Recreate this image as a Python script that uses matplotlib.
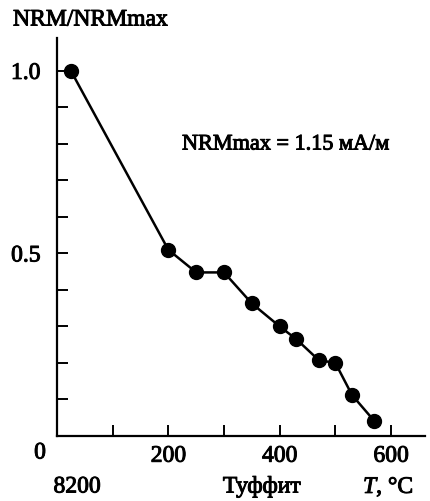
import matplotlib
matplotlib.use("Agg")
import matplotlib.pyplot as plt
import matplotlib.patheffects as pe

# thermal demagnetization, sample 8200 (tuffite)
temps = [25, 200, 250, 300, 350, 400, 430, 470, 500, 530, 570]
nrm = [1.0, 0.51, 0.448, 0.448, 0.363, 0.30, 0.265, 0.208, 0.20, 0.112, 0.041]

x_ticks = [100, 200, 300, 400, 500, 600]
x_labels = ["", "200", "", "400", "", "600"]
y_ticks = [0.1, 0.2, 0.3, 0.4, 0.5, 0.6, 0.7, 0.8, 0.9, 1.0]
y_labels = ["", "", "", "", "0.5", "", "", "", "", "1.0"]

plt.rcParams["font.family"] = ["Liberation Serif", "DejaVu Serif"]
plt.rcParams["font.size"] = 17
plt.rcParams["mathtext.fontset"] = "custom"
plt.rcParams["mathtext.rm"] = "Liberation Serif"
plt.rcParams["mathtext.it"] = "Liberation Serif:italic"
thick = [pe.withStroke(linewidth=0.7, foreground="black")]

fig = plt.figure(figsize=(4.31, 5.01), dpi=100)
ax = fig.add_axes([57 / 431, 65 / 501, 368 / 431, 398 / 501])

ax.plot(temps, nrm, color="black", lw=1.8, marker="o", ms=10,
        markerfacecolor="black", markeredgecolor="black", clip_on=False)

ax.set_xlim(0, 661)
ax.set_ylim(0, 1.09)
ax.spines["top"].set_visible(False)
ax.spines["right"].set_visible(False)
for s in ("left", "bottom"):
    ax.spines[s].set_linewidth(1.6)

ax.set_xticks(x_ticks)
ax.set_xticklabels(x_labels)
ax.set_yticks(y_ticks)
ax.set_yticklabels(y_labels)
ax.tick_params(direction="in", length=8, width=1.4, labelsize=17)
ax.tick_params(axis="y", pad=12)
ax.tick_params(axis="x", pad=7)
for lab in ax.get_xticklabels() + ax.get_yticklabels():
    lab.set_path_effects(thick)

texts = [
    fig.text(40 / 431, 1 - 453 / 501, "0", ha="center", va="center"),
    fig.text(13 / 431, 1 - 20 / 501, "NRM/NRMmax", ha="left", va="center"),
    fig.text(182 / 431, 1 - 145 / 501, "NRMmax = 1.15 мА/м", ha="left", va="center", fontsize=16),
    fig.text(77 / 431, 1 - 487 / 501, "8200", ha="center", va="center"),
    fig.text(262 / 431, 1 - 487 / 501, "Туффит", ha="center", va="center"),
    fig.text(363 / 431, 1 - 487 / 501, "$\\mathit{T}$, °C", ha="left", va="center"),
]
for t in texts:
    t.set_path_effects(thick)

fig.savefig("out.png", dpi=100)
